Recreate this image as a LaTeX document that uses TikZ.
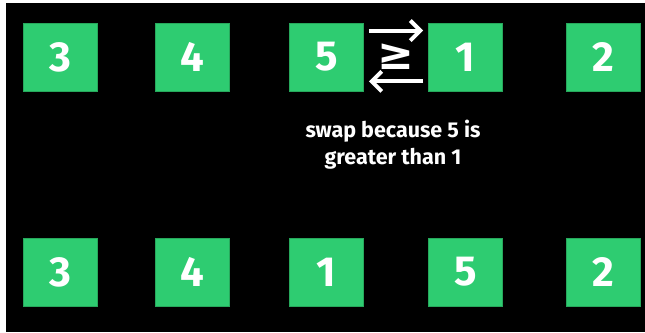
\documentclass[tikz,border=0pt]{standalone}
\usepackage{fontspec}
\setmainfont{Fira Sans}
\newfontfamily\symfont{DejaVu Sans}
\usetikzlibrary{arrows.meta,calc}
\definecolor{boxgreen}{HTML}{2ECC71}
\definecolor{boxedge}{HTML}{27A85C}
\tikzset{
  numbox/.style={fill=boxgreen, draw=boxedge, line width=0.8pt, minimum width=74pt, minimum height=68pt, inner sep=0pt, text=white, font=\fontsize{42}{42}\selectfont\bfseries},
  swaparrow/.style={draw=white, line width=4pt, -{Straight Barb[length=10pt,width=20pt,line width=4pt]}},
  caption/.style={text=white, align=center, font=\fontsize{21.5}{27}\selectfont\bfseries}
}
\begin{document}
\begin{tikzpicture}[x=1pt,y=-1pt]
\useasboundingbox (0,0) rectangle (645,332);
\fill[white] (0,0) rectangle (645,332);
\fill[black] (6,3) rectangle (645,332);
% top row
\node[numbox] (t1) at (60,57) {3};
\node[numbox] (t2) at (192.5,57) {4};
\node[numbox] (t3) at (326.5,57) {5};
\node[numbox] (t4) at (465.5,57) {1};
\node[numbox] (t5) at (603,57) {2};
% bottom row
\node[numbox] (b1) at (60,272) {3};
\node[numbox] (b2) at (192.5,272) {4};
\node[numbox] (b3) at (326.5,272) {1};
\node[numbox] (b4) at (465.5,272) {5};
\node[numbox] (b5) at (603,272) {2};
% swap arrows
\coordinate (a1s) at ($(t3.north east)+(5,8)$);
\coordinate (a1e) at ($(t4.north west)+(-5,8)$);
\coordinate (a2s) at ($(t4.south west)+(-5,-10)$);
\coordinate (a2e) at ($(t3.south east)+(5,-10)$);
\draw[swaparrow] (a1s) -- (a1e);
\draw[swaparrow] (a2s) -- (a2e);
\node[text=white, inner sep=0pt, font=\symfont\fontsize{44}{44}\selectfont\bfseries] (ge) at (396,57) {≥};
% caption
\node[caption] (cap) at (393,145) {swap because 5 is\\greater than 1};
\end{tikzpicture}
\end{document}
